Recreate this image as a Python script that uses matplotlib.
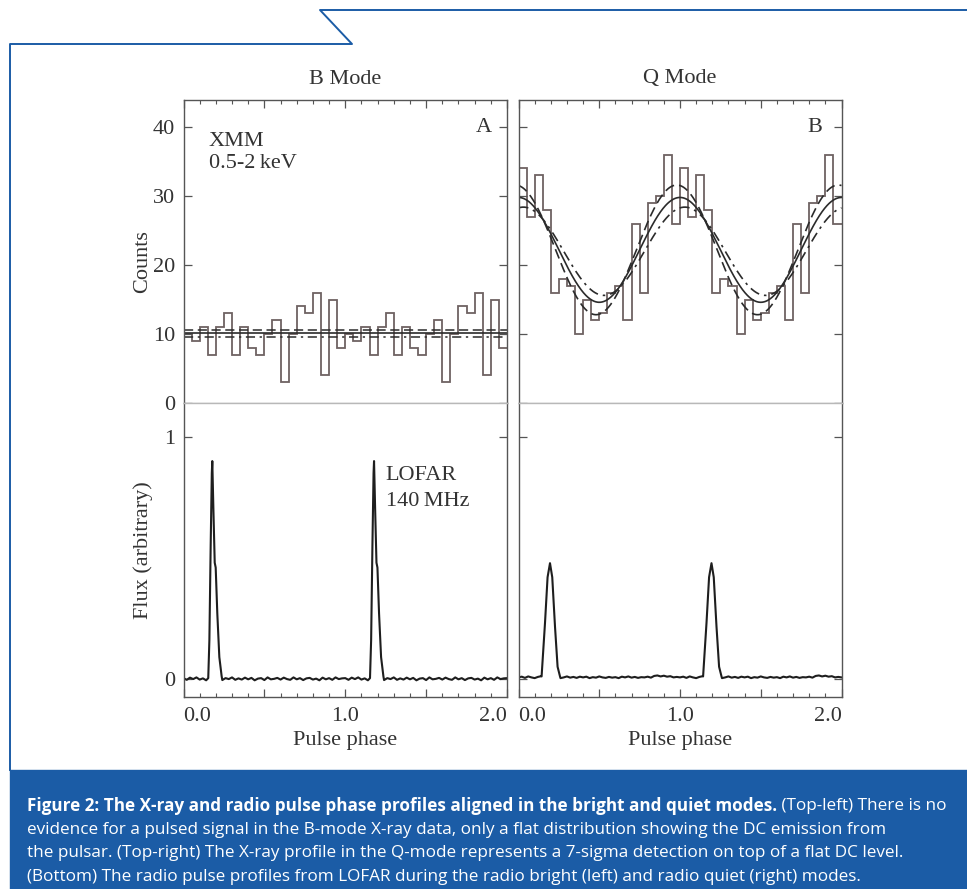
import numpy as np
import matplotlib.pyplot as plt
from matplotlib import font_manager
from matplotlib.lines import Line2D
from matplotlib.patches import Rectangle
from matplotlib.ticker import MultipleLocator

# ---- data ----
# X-ray counts, 20 phase bins per rotation (profile shown twice)
b_counts = [10, 9, 11, 7, 11, 13, 7, 11, 8, 7, 10, 12, 3, 10, 14, 13, 16, 4, 15, 8]
q_counts = [34, 27, 33, 28, 16, 18, 17, 10, 15, 12, 13, 16, 17, 12, 26, 16, 29, 30, 36, 26]
n_bins = 20

# B mode: flat fit (best, upper, lower)
b_fit = [10.1, 10.6, 9.6]
# Q mode: sinusoid fits (mean, amplitude, phase of maximum)
q_fit_best = (22.2, 7.6, 0.00)
q_fit_hi = (22.2, 9.4, -0.02)
q_fit_lo = (22.0, 6.4, 0.03)

# LOFAR 140 MHz pulse shapes (one rotation)
b_pulse_phase = [0.153, 0.160, 0.168, 0.175, 0.178, 0.1845, 0.193, 0.199, 0.209, 0.2215, 0.236]
b_pulse_flux = [0.003, 0.16, 0.55, 0.85, 0.90, 0.71, 0.48, 0.46, 0.27, 0.09, 0.01]
q_pulse_phase = [0.143, 0.164, 0.180, 0.195, 0.209, 0.226, 0.242, 0.257]
q_pulse_flux = [0.010, 0.23, 0.42, 0.478, 0.42, 0.216, 0.05, 0.010]

# off-pulse baseline, every 0.02 in phase (units of 0.001)
b_noise = [3, -4, 5, -1, 6, -3, 2, -6, 4, 0, -2, 5, -5, 3, -1, 6, -4, 2, -3, 5,
           -2, 4, -6, 1, 3, -5, 6, -2, 0, 4, -3, 5, -1, -4, 6, -2, 3, -5, 2, 4,
           -3, 1, -6, 5, -2, 3, -4, 6, -1, 2]
q_noise = [6, 9, 4, 10, 6, 3, 8, 11, 5, 8, 4, 10, 7, 3, 6, 10, 5, 8, 4, 9,
           6, 9, 3, 7, 5, 10, 6, 4, 8, 5, 7, 3, 9, 6, 10, 5, 8, 4, 7, 6,
           9, 5, 12, 14, 10, 13, 9, 11, 6, 8]

# ---- style ----
plt.rcParams['font.family'] = ['Liberation Serif', 'DejaVu Serif']
plt.rcParams['font.size'] = 16
txt_col = '#333333'
axis_col = '#555555'
hist_col = '#6e6262'
line_col = '#2b2b2b'
blue = '#1b5ca6'

W, H = 967, 889
fig = plt.figure(figsize=(W / 100, H / 100), dpi=100)


def fx(px):
    return px / W


def fy(py):
    return 1 - py / H


def add_ax(x0, x1, y0, y1):
    return fig.add_axes([fx(x0), fy(y1), (x1 - x0) / W, (y1 - y0) / H])


ax_bt = add_ax(183.5, 507, 99.5, 403)
ax_qt = add_ax(518.5, 841.5, 99.5, 403)
ax_bb = add_ax(183.5, 507, 403, 697)
ax_qb = add_ax(518.5, 841.5, 403, 697)

edges = np.arange(2 * n_bins + 1) / n_bins
phase = np.linspace(0, 2, 801)

# top-left: B mode X-ray
ax_bt.stairs(b_counts * 2, edges, baseline=None, color=hist_col, lw=1.3)
ax_bt.axhline(b_fit[0], color=line_col, lw=1.2)
ax_bt.axhline(b_fit[1], color=line_col, lw=1.1, ls=(0, (6, 3)))
ax_bt.axhline(b_fit[2], color=line_col, lw=1.1, ls=(0, (6, 3, 1.5, 3)))

# top-right: Q mode X-ray
ax_qt.stairs(q_counts * 2, edges, baseline=None, color=hist_col, lw=1.3)
for (m, a, p0), ls in [(q_fit_best, '-'), (q_fit_hi, (0, (6, 3))),
                       (q_fit_lo, (0, (6, 3, 1.5, 3)))]:
    ax_qt.plot(phase, m + a * np.cos(2 * np.pi * (phase - p0)),
               color=line_col, lw=1.2, ls=ls)


def radio_profile(pph, pfl, noise):
    grid = np.arange(len(noise)) / len(noise)
    keep = (grid < pph[0]) | (grid > pph[-1])
    ph = np.concatenate([grid[keep], pph])
    fl = np.concatenate([np.array(noise)[keep] / 1000.0, pfl])
    order = np.argsort(ph)
    ph, fl = ph[order], fl[order]
    ph2 = np.concatenate([ph, ph + 1, [2.0]])
    fl2 = np.concatenate([fl, fl, [fl[0]]])
    return ph2, fl2


x, y = radio_profile(b_pulse_phase, b_pulse_flux, b_noise)
ax_bb.plot(x, y, color='#1e1e1e', lw=1.5)
x, y = radio_profile(q_pulse_phase, q_pulse_flux, q_noise)
ax_qb.plot(x, y, color='#1e1e1e', lw=1.5)

# axes formatting
for ax in [ax_bt, ax_qt, ax_bb, ax_qb]:
    ax.set_xlim(0, 2)
    ax.xaxis.set_minor_locator(MultipleLocator(0.1))
    ax.set_xticks([0, 0.5, 1, 1.5, 2])
    for s in ax.spines.values():
        s.set_color(axis_col)
        s.set_linewidth(1.0)
    ax.tick_params(which='both', direction='in', top=True, right=True,
                   color=axis_col, labelcolor=txt_col, labelsize=16)
    ax.tick_params(which='major', length=6, width=0.9)
    ax.tick_params(which='minor', length=3, width=0.8)
    ax.tick_params(axis='y', pad=6)

for ax in [ax_bt, ax_qt]:
    ax.set_ylim(0, 44)
    ax.set_yticks([0, 10, 20, 30, 40])
    ax.tick_params(axis='x', bottom=False, labelbottom=False, which='both')
    ax.spines['bottom'].set_color('#b8b8b8')

for ax in [ax_bb, ax_qb]:
    ax.set_ylim(-0.075, 1.14)
    ax.set_yticks([0, 1])
    ax.tick_params(axis='x', top=False, which='both', pad=7)
    ax.spines['top'].set_color('#b8b8b8')
    ax.set_xticklabels(['0.0', '', '1.0', '', '2.0'])
    labs = ax.get_xticklabels()
    labs[0].set_horizontalalignment('left')
    labs[-1].set_horizontalalignment('right')

for ax in [ax_qt, ax_qb]:
    ax.tick_params(axis='y', labelleft=False)

# texts
fig.text(fx(345), fy(79), 'B Mode', ha='center', va='center', color=txt_col)
fig.text(fx(680), fy(79), 'Q Mode', ha='center', va='center', color=txt_col)
fig.text(fx(345), fy(741), 'Pulse phase', ha='center', va='center', color=txt_col)
fig.text(fx(680), fy(741), 'Pulse phase', ha='center', va='center', color=txt_col)
fig.text(fx(143), fy(262), 'Counts', ha='center', va='center', rotation=90, color=txt_col)
fig.text(fx(143), fy(550), 'Flux (arbitrary)', ha='center', va='center', rotation=90, color=txt_col)
fig.text(fx(209), fy(141), 'XMM', ha='left', va='center', color=txt_col)
fig.text(fx(209), fy(163), '0.5-2\u2009keV', ha='left', va='center', color=txt_col)
fig.text(fx(385), fy(475), 'LOFAR', ha='left', va='center', color=txt_col)
fig.text(fx(386), fy(501), '140\u2009MHz', ha='left', va='center', color=txt_col)
fig.text(fx(484), fy(127), 'A', ha='center', va='center', color=txt_col)
fig.text(fx(815), fy(127), 'B', ha='center', va='center', color=txt_col)

# frame and caption box
fig.add_artist(Line2D([fx(967), fx(320), fx(352), fx(10), fx(10)],
                      [fy(10), fy(10), fy(44), fy(44), fy(770)],
                      color=blue, lw=1.4, transform=fig.transFigure))
fig.add_artist(Rectangle((fx(10), 0), 1 - fx(10), fy(770), color=blue,
                         transform=fig.transFigure, zorder=0))

cap_font = 'Open Sans'
for cand in ['Liberation Sans Narrow', 'Open Sans']:
    try:
        font_manager.findfont(cand, fallback_to_default=False)
        cap_font = cand
        break
    except Exception:
        pass

bold1 = "Figure 2: The X-ray and radio pulse phase profiles aligned in the bright and quiet modes."
reg1 = " (Top-left) There is no"
lines = ["evidence for a pulsed signal in the B-mode X-ray data, only a flat distribution showing the DC emission from",
         "the pulsar. (Top-right) The X-ray profile in the Q-mode represents a 7-sigma detection on top of a flat DC level.",
         "(Bottom) The radio pulse profiles from LOFAR during the radio bright (left) and radio quiet (right) modes."]

# size the caption so that its first line spans the box like the original
renderer = fig.canvas.get_renderer()
pb = fig.text(0, 0, bold1, fontsize=12, family=cap_font, weight='bold')
pr = fig.text(0, 0, reg1, fontsize=12, family=cap_font)
w12 = pb.get_window_extent(renderer).width + pr.get_window_extent(renderer).width
pb.remove()
pr.remove()
cap_size = 12 * 918 / w12

tb = fig.text(fx(27), fy(806), bold1, fontsize=cap_size, family=cap_font,
              weight='bold', color='white', va='center')
wb = tb.get_window_extent(renderer).width
fig.text(fx(27 + wb), fy(806), reg1, fontsize=cap_size, family=cap_font,
         color='white', va='center')
for i, ln in enumerate(lines):
    fig.text(fx(27), fy(830 + 23.3 * i), ln, fontsize=cap_size, family=cap_font,
             color='white', va='center')

fig.savefig('out.png', dpi=100, facecolor='white')
